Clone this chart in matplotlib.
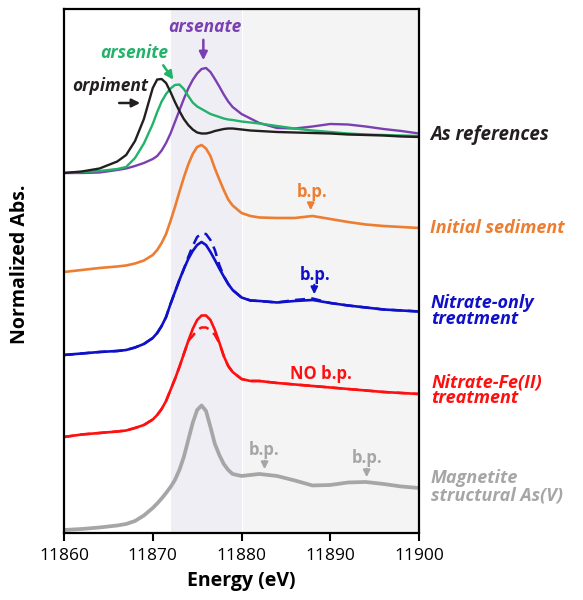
import matplotlib
matplotlib.use("Agg")
from matplotlib import pyplot as plt

plt.rcParams['font.family'] = ['Open Sans', 'DejaVu Sans']

# energy grid (eV)
energy = [11860, 11862, 11864, 11866, 11867, 11868, 11869, 11870, 11870.5, 11871,
          11871.5, 11872, 11872.5, 11873, 11873.5, 11874, 11874.5, 11875, 11875.5, 11876,
          11876.5, 11877, 11877.5, 11878, 11878.5, 11879, 11880, 11881, 11882, 11884,
          11886, 11888, 11890, 11892, 11894, 11896, 11898, 11900]

# normalized absorbance
orpiment = [0.00, 0.03, 0.09, 0.23, 0.36, 0.64, 1.08, 1.70, 1.87, 1.88,
            1.80, 1.62, 1.42, 1.24, 1.08, 0.96, 0.87, 0.81, 0.79, 0.79,
            0.81, 0.84, 0.86, 0.88, 0.89, 0.89, 0.87, 0.85, 0.84, 0.82,
            0.81, 0.80, 0.79, 0.77, 0.76, 0.75, 0.73, 0.72]
arsenite = [0.00, 0.02, 0.04, 0.08, 0.12, 0.30, 0.59, 0.98, 1.22, 1.43,
            1.58, 1.69, 1.76, 1.77, 1.68, 1.54, 1.41, 1.33, 1.28, 1.23,
            1.18, 1.15, 1.12, 1.09, 1.07, 1.06, 1.03, 1.01, 0.99, 0.94,
            0.89, 0.85, 0.82, 0.79, 0.77, 0.76, 0.75, 0.74]
arsenate = [0.00, 0.00, 0.01, 0.06, 0.09, 0.14, 0.20, 0.28, 0.34, 0.45,
            0.60, 0.79, 1.02, 1.25, 1.48, 1.69, 1.86, 1.99, 2.08, 2.10,
            2.02, 1.88, 1.73, 1.57, 1.43, 1.32, 1.18, 1.09, 1.00, 0.90,
            0.89, 0.93, 0.98, 0.97, 0.93, 0.88, 0.84, 0.79]
initial = [0.00, 0.04, 0.08, 0.11, 0.13, 0.17, 0.23, 0.34, 0.44, 0.58,
           0.76, 1.02, 1.30, 1.60, 1.89, 2.15, 2.36, 2.50, 2.54, 2.47,
           2.32, 2.07, 1.85, 1.64, 1.45, 1.33, 1.18, 1.12, 1.09, 1.08,
           1.08, 1.12, 1.06, 1.00, 0.95, 0.92, 0.90, 0.88]
nitrate = [0.00, 0.03, 0.06, 0.08, 0.10, 0.15, 0.22, 0.34, 0.44, 0.58,
           0.76, 1.02, 1.26, 1.50, 1.72, 1.92, 2.08, 2.20, 2.26, 2.20,
           2.06, 1.90, 1.73, 1.57, 1.42, 1.30, 1.15, 1.09, 1.08, 1.05,
           1.08, 1.10, 1.04, 0.99, 0.95, 0.91, 0.89, 0.87]
nitrate_dash = [0.00, 0.03, 0.06, 0.08, 0.10, 0.15, 0.22, 0.34, 0.44, 0.58,
                0.76, 1.02, 1.26, 1.50, 1.72, 1.96, 2.18, 2.36, 2.43, 2.42,
                2.30, 2.10, 1.80, 1.58, 1.42, 1.30, 1.15, 1.09, 1.08, 1.05,
                1.10, 1.13, 1.04, 0.99, 0.95, 0.91, 0.89, 0.87]
nitrate_fe = [0.00, 0.05, 0.08, 0.11, 0.13, 0.18, 0.24, 0.35, 0.44, 0.56,
              0.72, 0.94, 1.16, 1.40, 1.66, 1.92, 2.16, 2.34, 2.43, 2.43,
              2.34, 2.14, 1.89, 1.62, 1.42, 1.30, 1.16, 1.12, 1.12, 1.08,
              1.05, 1.02, 0.99, 0.96, 0.93, 0.90, 0.88, 0.86]
nitrate_fe_dash = [0.00, 0.05, 0.08, 0.11, 0.13, 0.18, 0.24, 0.35, 0.44, 0.56,
                   0.72, 0.94, 1.16, 1.40, 1.66, 1.92, 2.02, 2.14, 2.19, 2.19,
                   2.14, 2.04, 1.88, 1.62, 1.42, 1.30, 1.16, 1.12, 1.12, 1.08,
                   1.05, 1.02, 0.99, 0.96, 0.93, 0.90, 0.88, 0.86]
magnetite = [0.00, 0.02, 0.05, 0.09, 0.12, 0.18, 0.29, 0.44, 0.53, 0.63,
             0.74, 0.86, 1.00, 1.20, 1.46, 1.80, 2.14, 2.40, 2.49, 2.38,
             2.06, 1.72, 1.50, 1.32, 1.20, 1.12, 1.08, 1.10, 1.12, 1.08,
             0.99, 0.89, 0.90, 0.95, 0.96, 0.92, 0.87, 0.84]

# vertical stacking offsets
offsets = {'refs': 7.20, 'initial': 5.22, 'nitrate': 3.56, 'nitrate_fe': 1.92, 'magnetite': 0.06}

black = '#231f20'
green = '#22b26a'
purple = '#7a3fb0'
orange = '#ed7d31'
blue = '#1010c8'
red = '#ff1010'
grey = '#a6a6a6'

fig = plt.figure(figsize=(5.83, 6.0), dpi=100)
ax = fig.add_axes([0.1098, 0.1117, 0.6089, 0.8733])

# shaded energy windows
ax.axvspan(11872, 11880, color='#efeef5', lw=0, zorder=0)
ax.axvspan(11880.2, 11900, color='#f4f4f5', lw=0, zorder=0)


def shift(vals, off):
    return [v + off for v in vals]


kw = dict(solid_joinstyle='round', solid_capstyle='round')
ax.plot(energy, shift(arsenate, offsets['refs']), color=purple, lw=1.7, **kw)
ax.plot(energy, shift(arsenite, offsets['refs']), color=green, lw=1.7, **kw)
ax.plot(energy, shift(orpiment, offsets['refs']), color=black, lw=1.7, **kw)
ax.plot(energy, shift(initial, offsets['initial']), color=orange, lw=1.9, **kw)
ax.plot(energy, shift(nitrate_dash, offsets['nitrate']), color=blue, lw=1.8, ls=(0, (4, 2.5)))
ax.plot(energy, shift(nitrate, offsets['nitrate']), color=blue, lw=1.9, **kw)
ax.plot(energy, shift(nitrate_fe_dash, offsets['nitrate_fe']), color=red, lw=1.8, ls=(0, (4, 2.5)))
ax.plot(energy, shift(nitrate_fe, offsets['nitrate_fe']), color=red, lw=1.9, **kw)
ax.plot(energy, shift(magnetite, offsets['magnetite']), color=grey, lw=2.7, **kw)

ax.set_xlim(11860, 11900)
ax.set_ylim(0, 10.48)
ax.set_xticks([11860, 11870, 11880, 11890, 11900])
ax.set_yticks([])
ax.tick_params(axis='x', direction='out', length=6, width=1.5, labelsize=12.5, pad=5)
for s in ax.spines.values():
    s.set_linewidth(1.6)
    s.set_color('black')

ax.set_xlabel('Energy (eV)', fontsize=14, fontweight='bold', labelpad=5)
fig.text(0.035, 0.56, 'Normalized Abs.', rotation=90, fontsize=14, fontweight='bold',
         ha='center', va='center')

bi = dict(fontweight='bold', style='italic')

# reference annotations
ax.text(11869.5, 8.94, 'orpiment', color=black, fontsize=12.5, ha='right', va='center', **bi)
ax.annotate('', xy=(11868.9, 8.60), xytext=(11865.9, 8.60),
            arrowprops=dict(arrowstyle='-|>', color=black, lw=1.8, mutation_scale=12))
ax.text(11867.9, 9.60, 'arsenite', color=green, fontsize=12.5, ha='center', va='center', **bi)
ax.annotate('', xy=(11872.5, 9.02), xytext=(11871.0, 9.40),
            arrowprops=dict(arrowstyle='-|>', color=green, lw=1.8, mutation_scale=12))
ax.text(11875.9, 10.12, 'arsenate', color=purple, fontsize=12.5, ha='center', va='center', **bi)
ax.annotate('', xy=(11875.7, 9.40), xytext=(11875.7, 9.92),
            arrowprops=dict(arrowstyle='-|>', color=purple, lw=1.8, mutation_scale=12))

# b.p. annotations
bp = dict(fontsize=12, fontweight='bold', ha='center', va='center')
ax.text(11888.0, 6.82, 'b.p.', color=orange, **bp)
ax.annotate('', xy=(11887.8, 6.40), xytext=(11887.8, 6.64),
            arrowprops=dict(arrowstyle='-|>', color=orange, lw=1.5, mutation_scale=10))
ax.text(11888.3, 5.16, 'b.p.', color=blue, **bp)
ax.annotate('', xy=(11888.2, 4.72), xytext=(11888.2, 5.02),
            arrowprops=dict(arrowstyle='-|>', color=blue, lw=1.5, mutation_scale=10))
ax.text(11888.9, 3.18, 'NO b.p.', color=red, **bp)
ax.text(11882.6, 1.66, 'b.p.', color=grey, **bp)
ax.annotate('', xy=(11882.6, 1.22), xytext=(11882.6, 1.50),
            arrowprops=dict(arrowstyle='-|>', color=grey, lw=1.5, mutation_scale=10))
ax.text(11894.2, 1.50, 'b.p.', color=grey, **bp)
ax.annotate('', xy=(11894.1, 1.06), xytext=(11894.1, 1.34),
            arrowprops=dict(arrowstyle='-|>', color=grey, lw=1.5, mutation_scale=10))

# sample labels on the right
fig.text(0.737, 1 - 135 / 600, 'As references', color=black, fontsize=13.5, ha='left', va='center', **bi)
fig.text(0.737, 1 - 228 / 600, 'Initial sediment', color=orange, fontsize=13, ha='left', va='center', **bi)
fig.text(0.739, 1 - 311 / 600, 'Nitrate-only\ntreatment', color=blue, fontsize=13, ha='left',
         va='center', linespacing=0.85, **bi)
fig.text(0.740, 1 - 390 / 600, 'Nitrate-Fe(II)\ntreatment', color=red, fontsize=13, ha='left',
         va='center', linespacing=0.85, **bi)
fig.text(0.739, 1 - 487 / 600, 'Magnetite\nstructural As(V)', color=grey, fontsize=13, ha='left',
         va='center', linespacing=0.95, **bi)

fig.savefig('out.png', dpi=100)
